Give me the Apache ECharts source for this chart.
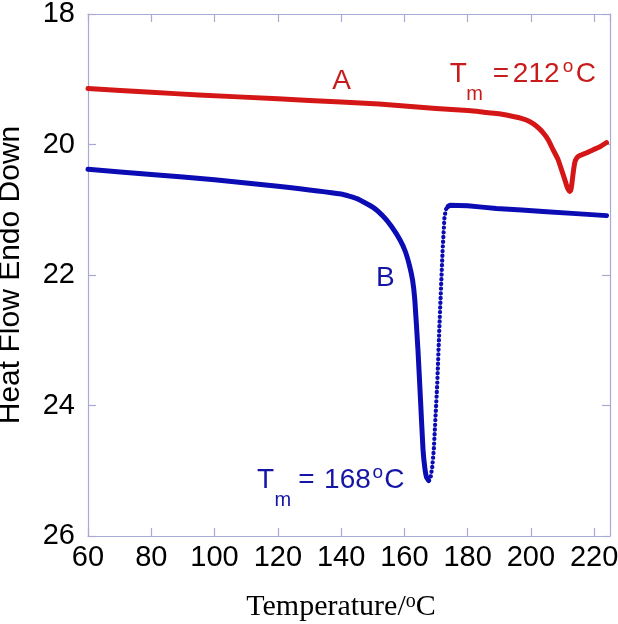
<!DOCTYPE html>
<html><head><meta charset="utf-8">
<script src="https://cdn.jsdelivr.net/npm/echarts@6/dist/echarts.min.js"></script>
<style>html,body{margin:0;padding:0;background:#fff}#c{width:618px;height:624px}</style>
</head><body><div id="c"></div>
<script>
// ---- data ----
const tempA = [60, 80, 95, 120, 140, 152, 160, 170, 180, 182.8, 186, 190, 194.4, 197, 199.7, 201.8, 203.9, 205.5, 207.0, 208.5, 209.7, 210.6, 211.3, 211.8, 212.2, 212.6, 212.9, 213.4, 213.9, 214.6, 215.5, 217.5, 219.7, 222, 223.9];
const heatA = [19.14, 19.20, 19.24, 19.30, 19.35, 19.38, 19.41, 19.45, 19.48, 19.49, 19.51, 19.53, 19.57, 19.60, 19.65, 19.72, 19.82, 19.93, 20.08, 20.22, 20.39, 20.52, 20.63, 20.69, 20.72, 20.70, 20.62, 20.42, 20.27, 20.20, 20.17, 20.13, 20.08, 20.03, 19.97];
const tempB = [60, 80, 100, 120, 140, 145, 150, 153.3, 156, 158.6, 160.3, 161.7, 162.6, 163.3, 164.3, 165.1, 165.9, 166.5, 167.0, 167.7, 168.3, 168.8, 169.3, 170.4, 171.2, 172.1, 172.7, 173.2, 173.8, 174.4, 180, 189.1, 205, 223.9];
const heatB = [20.38, 20.46, 20.54, 20.64, 20.76, 20.83, 20.96, 21.10, 21.26, 21.46, 21.64, 21.87, 22.08, 22.38, 23.15, 23.91, 24.68, 24.97, 25.10, 25.15, 25.10, 24.95, 24.68, 23.66, 22.64, 21.61, 21.10, 20.99, 20.95, 20.93, 20.94, 20.98, 21.03, 21.09];
// sparse (dotted) part of curve B: the fast recovery after the melting peak
const dottedFromT = 167.7, dottedToT = 173.8;
const xMin = 60, xMax = 225, xStep = 20;
const yMin = 18, yMax = 26, yStep = 2;
const seriesNames = ['A', 'B'];
const tmA = '212', tmB = '168';
// annotation anchors in data coordinates
const anchorA = [137.2, 19.18];
const anchorB = [151.0, 22.20];
const anchorTmA = [174.37, 19.073];
const anchorTmB = [113.44, 25.295];

// ---- styles ----
const RED = '#d41616', BLUE = '#0c0cb4';
const RED_TXT = '#c81c1c', BLUE_TXT = '#1515a6';
const FRAME = '#a9a9d6';
const SANS = '"Liberation Sans", Arial, Helvetica, sans-serif';
const SERIF = '"Liberation Serif", "Times New Roman", serif';

const zip = (xs, ys) => xs.map((x, i) => [x, ys[i]]);
const ptsA = zip(tempA, heatA);
const ptsB = zip(tempB, heatB);
const iFrom = tempB.indexOf(dottedFromT), iTo = tempB.indexOf(dottedToT);
const b1 = ptsB.slice(0, iFrom + 1), b2 = ptsB.slice(iFrom, iTo + 1), b3 = ptsB.slice(iTo);

const chart = echarts.init(document.getElementById('c'), null, {renderer: 'canvas'});
const axisCommon = {
  axisLine: {show: true, lineStyle: {color: FRAME, width: 1.2}},
  axisTick: {show: true, inside: true, length: 8, lineStyle: {color: FRAME, width: 1.2}},
  splitLine: {show: false}
};
const lineSeries = (name, data, color, dotted) => ({
  name, type: 'line', data, showSymbol: false, symbol: 'none', silent: true, z: dotted ? 3 : 2,
  smooth: dotted ? false : 0.15,
  lineStyle: dotted
    ? {color, width: 4.3, type: [0.1, 4.6], cap: 'round', join: 'round'}
    : {color, width: 5, cap: 'round', join: 'round'},
  itemStyle: {color}
});

chart.setOption({
  animation: false,
  backgroundColor: '#fff',
  grid: {left: 88, right: 8, top: 14, bottom: 88, containLabel: false, outerBoundsMode: 'none'},
  xAxis: [
    Object.assign({}, axisCommon, {
      type: 'value', position: 'bottom', min: xMin, max: xMax, interval: xStep,
      axisLabel: {show: true, fontSize: 29, color: '#000', fontFamily: SANS, margin: 7, showMaxLabel: false},
      name: 'Temperature/{sup|o}C', nameLocation: 'middle', nameGap: 56,
      nameTextStyle: {fontSize: 30, color: '#000', fontFamily: SERIF, lineHeight: 30, padding: [0, 16, 0, 0],
        rich: {sup: {fontSize: 20, fontFamily: SERIF, color: '#000', lineHeight: 14, verticalAlign: 'top'}}}
    }),
    Object.assign({}, axisCommon, {
      type: 'value', position: 'top', min: xMin, max: xMax, interval: xStep,
      axisLabel: {show: false}
    })
  ],
  yAxis: [
    Object.assign({}, axisCommon, {
      type: 'value', position: 'left', inverse: true, min: yMin, max: yMax, interval: yStep,
      axisLabel: {show: true, fontSize: 29, color: '#000', fontFamily: SANS, margin: 13},
      name: 'Heat Flow Endo Down', nameLocation: 'middle', nameGap: 62, nameRotate: 90,
      nameTextStyle: {fontSize: 30, color: '#000', fontFamily: SANS}
    }),
    Object.assign({}, axisCommon, {
      type: 'value', position: 'right', inverse: true, min: yMin, max: yMax, interval: yStep,
      axisLabel: {show: false}
    })
  ],
  series: [
    lineSeries(seriesNames[0], ptsA, RED, false),
    lineSeries(seriesNames[1], b1, BLUE, false),
    lineSeries(seriesNames[1], b2, BLUE, true),
    lineSeries(seriesNames[1], b3, BLUE, false)
  ]
});

// ---- annotations (text pieces laid out around a data-anchored point) ----
function piece(p, dx, capMid, str, size, color) {
  return {type: 'text', x: p[0] + dx, y: p[1] + capMid, silent: true, z: 10,
    style: {text: str, fontSize: size, fontFamily: SANS, fill: color, align: 'left', verticalAlign: 'middle'}};
}
function tmLabel(anchor, value, color, d) {
  const p = chart.convertToPixel({xAxisIndex: 0, yAxisIndex: 0}, anchor);
  // baseline of the main text is at p[1]
  return [
    piece(p, 0, -10, 'T', 28, color),
    piece(p, d.m, d.mBase - 5, 'm', 20, color),
    piece(p, d.eq, -10, '=', 28, color),
    piece(p, d.num, -10, value, 28, color),
    piece(p, d.o, d.oBase - 4, 'o', 19, color),
    piece(p, d.c, -10, 'C', 28, color)
  ];
}
function letter(anchor, str, color) {
  const p = chart.convertToPixel({xAxisIndex: 0, yAxisIndex: 0}, anchor);
  return piece(p, 0, -10, str, 28, color);
}
const els = [].concat(
  [letter(anchorA, seriesNames[0], RED_TXT), letter(anchorB, seriesNames[1], BLUE_TXT)],
  tmLabel(anchorTmA, tmA, RED_TXT, {m: 16.4, mBase: 15.7, eq: 43, num: 63, o: 113, oBase: -12.8, c: 126}),
  tmLabel(anchorTmB, tmB, BLUE_TXT, {m: 17.4, mBase: 15, eq: 41.3, num: 67, o: 115.4, oBase: -13.3, c: 127.3})
);
chart.setOption({graphic: {elements: els}});
</script>
</body></html>
